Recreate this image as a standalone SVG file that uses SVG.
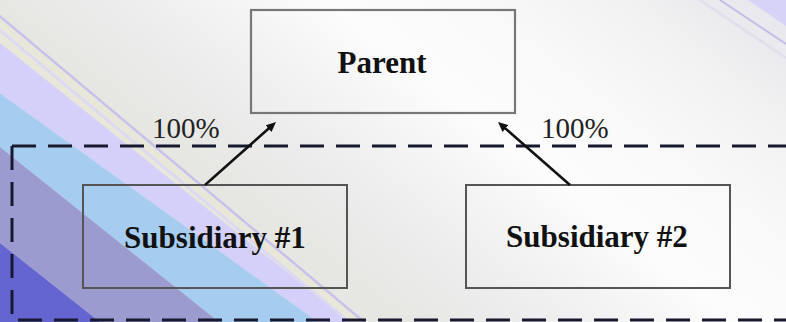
<svg xmlns="http://www.w3.org/2000/svg" width="786" height="322" viewBox="0 0 786 322">
  <defs>
    <linearGradient id="bgGrad" gradientUnits="userSpaceOnUse" x1="0" y1="14" x2="288" y2="-355">
      <stop offset="0" stop-color="#e6e6e2"/>
      <stop offset="0.14" stop-color="#ebebeb"/>
      <stop offset="0.3" stop-color="#f3f3f3"/>
      <stop offset="0.45" stop-color="#fcfcfc"/>
      <stop offset="0.65" stop-color="#f9f9f9"/>
      <stop offset="0.85" stop-color="#f1f1f1"/>
      <stop offset="1" stop-color="#e8e8ee"/>
    </linearGradient>
    <marker id="arrow" markerUnits="userSpaceOnUse" markerWidth="11" markerHeight="9" refX="4" refY="4.5" orient="auto">
      <path d="M0,0 L10,4.5 L0,9 z" fill="#111"/>
    </marker>
    <style>
      .box { fill: none; stroke: #555; stroke-width: 2; }
      .parentbox { fill: none; stroke: #777; stroke-width: 2.2; }
      .lbl { font-family: "Liberation Serif", "Times New Roman", serif; font-weight: bold; font-size: 31px; fill: #111; text-anchor: middle; }
      .pct { font-family: "Liberation Serif", "Times New Roman", serif; font-size: 29px; fill: #222; }
      .conn { stroke: #111; stroke-width: 2.5; fill: none; marker-end: url(#arrow); }
      .dash { fill: none; stroke: #18182e; stroke-width: 3; stroke-dasharray: 24 12; }
    </style>
  </defs>

  <g id="background">
    <rect x="0" y="0" width="786" height="322" fill="url(#bgGrad)"/>
    <polygon points="-10,5.6 376,330 359,330 -10,35" fill="#e8e7da"/>
    <polygon points="-10,35 359,330 329,330 -10,86" fill="#d4d0fa"/>
    <polygon points="-10,86 329,330 229,330 -10,139" fill="#a6cdf0"/>
    <polygon points="-10,139 229,330 110,330 -10,235" fill="#9c9bd0"/>
    <polygon points="-10,235 110,330 -10,330" fill="#6565d2"/>
    <line x1="-10" y1="8" x2="376" y2="332" stroke="#c6c2ec" stroke-width="2.5"/>
    <line x1="-10" y1="22" x2="366" y2="336" stroke="#dcd9f2" stroke-width="3"/>
    <polygon points="748,0 786,0 786,26" fill="#d6d3f6"/>
    <line x1="720" y1="0" x2="786" y2="44" stroke="#c2bee6" stroke-width="2"/>
    <line x1="700" y1="0" x2="786" y2="58" stroke="#e2e0ec" stroke-width="3"/>
  </g>

  <g id="group-boundary">
    <path class="dash" d="M12,146 L790,146"/>
    <path class="dash" d="M12,146 L12,320 L790,320"/>
  </g>

  <g id="node-parent">
    <rect class="parentbox" x="251" y="10" width="264" height="103"/>
    <text class="lbl" x="382" y="73">Parent</text>
  </g>

  <g id="node-sub1">
    <rect class="box" x="83" y="185" width="264" height="103"/>
    <text class="lbl" x="215" y="248">Subsidiary #1</text>
  </g>

  <g id="node-sub2">
    <rect class="box" x="466" y="185" width="264" height="103"/>
    <text class="lbl" x="597" y="247">Subsidiary #2</text>
  </g>

  <g id="connectors">
    <line class="conn" x1="205" y1="185" x2="271.5" y2="126"/>
    <line class="conn" x1="570" y1="185" x2="502.5" y2="125.9"/>
    <text class="pct" x="152" y="138">100%</text>
    <text class="pct" x="541" y="138">100%</text>
  </g>
</svg>
